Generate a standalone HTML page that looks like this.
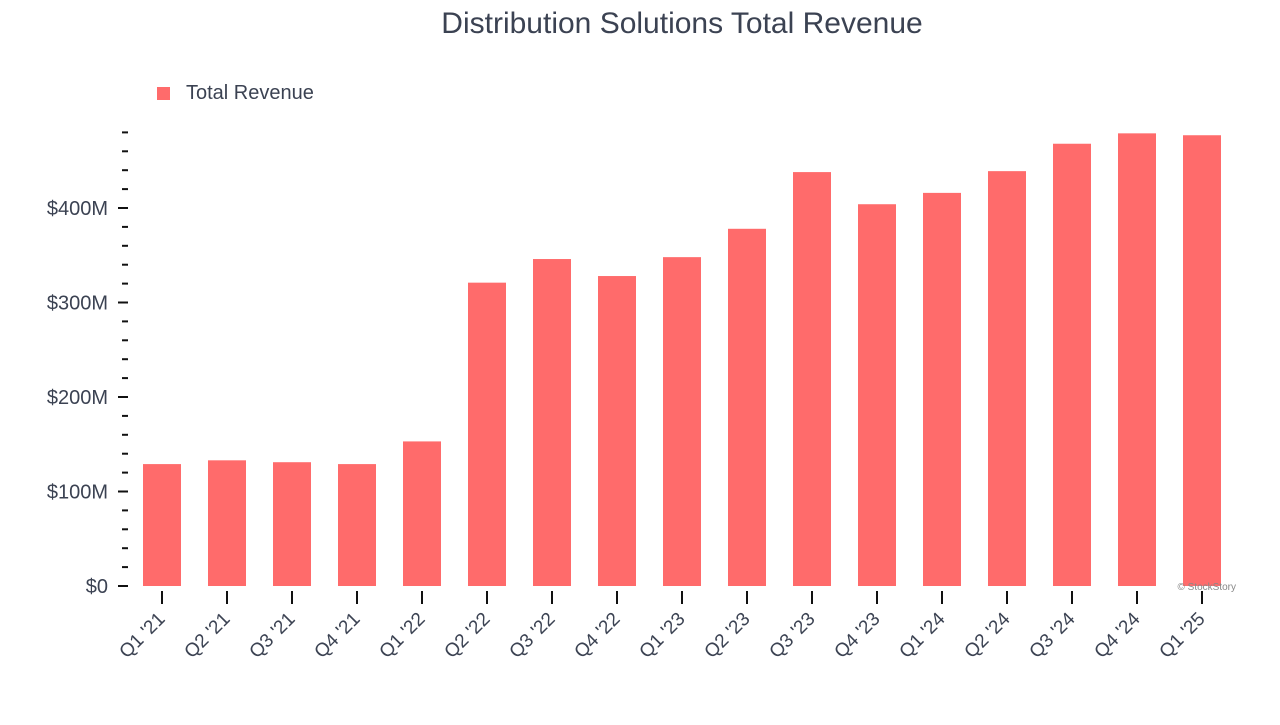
<!DOCTYPE html>
<html><head><meta charset="utf-8">
<style>
html,body{margin:0;padding:0;background:#fff;}
svg text{font-family:"Liberation Sans",Arial,sans-serif;}
</style></head>
<body>
<svg id="chart" width="1280" height="720" xmlns="http://www.w3.org/2000/svg">
<text x="682" y="33" font-size="30" fill="#3b4252" text-anchor="middle">Distribution Solutions Total Revenue</text>
<g>
<rect x="157" y="87" width="13" height="13" fill="#ff6b6b"/>
<text x="186" y="99" font-size="20" fill="#3b4252">Total Revenue</text>
</g>
<g id="yaxis"></g>
<g id="bars"></g>
<g id="xaxis"></g>
<text x="1236" y="590" font-size="10" fill="#888" text-anchor="end">© StockStory</text>
</svg>
<script>
const categories = ["Q1 '21","Q2 '21","Q3 '21","Q4 '21","Q1 '22","Q2 '22","Q3 '22","Q4 '22","Q1 '23","Q2 '23","Q3 '23","Q4 '23","Q1 '24","Q2 '24","Q3 '24","Q4 '24","Q1 '25"];
const revenue = [129,133,131,129,153,321,346,328,348,378,438,404,416,439,468,479,477];
const yTickValues = [0,100,200,300,400];
const yTickLabels = ["$0","$100M","$200M","$300M","$400M"];

const NS="http://www.w3.org/2000/svg";
const y0=586, pxPer=0.945, yMax=480;
const y = v => y0 - v*pxPer;
const x0=162, step=65, bw=38;
const x = i => x0 + i*step;
function mk(tag, attrs, parent){const e=document.createElementNS(NS,tag);for(const k in attrs)e.setAttribute(k,attrs[k]);parent.appendChild(e);return e;}
const ya=document.getElementById('yaxis'), ba=document.getElementById('bars'), xa=document.getElementById('xaxis');
for(let v=0; v<=yMax; v+=20){
  const major = v%100===0;
  const t=mk('line',{x1:major?118:122,x2:128,y1:y(v),y2:y(v),stroke:'#111','stroke-width':2},ya);
  
  
}
yTickValues.forEach((v,i)=>{
  const t=mk('text',{x:108,y:y(v)+7,'font-size':20,fill:'#3b4252','text-anchor':'end'},ya);
  t.textContent=yTickLabels[i];
  
  
});
revenue.forEach((v,i)=>{
  const r=mk('rect',{x:x(i)-bw/2,y:y(v),width:bw,height:v*pxPer,fill:'#ff6b6b'},ba);
  
  
});
categories.forEach((c,i)=>{
  const tk=mk('line',{x1:x(i),x2:x(i),y1:591,y2:604,stroke:'#111','stroke-width':2},xa);
  
  
  const t=mk('text',{x:x(i)+4,y:620,'font-size':19,fill:'#3b4252','text-anchor':'end',transform:`rotate(-45 ${x(i)+4} 620)`},xa);
  t.textContent=c;
  
  
});
</script>
</body></html>
